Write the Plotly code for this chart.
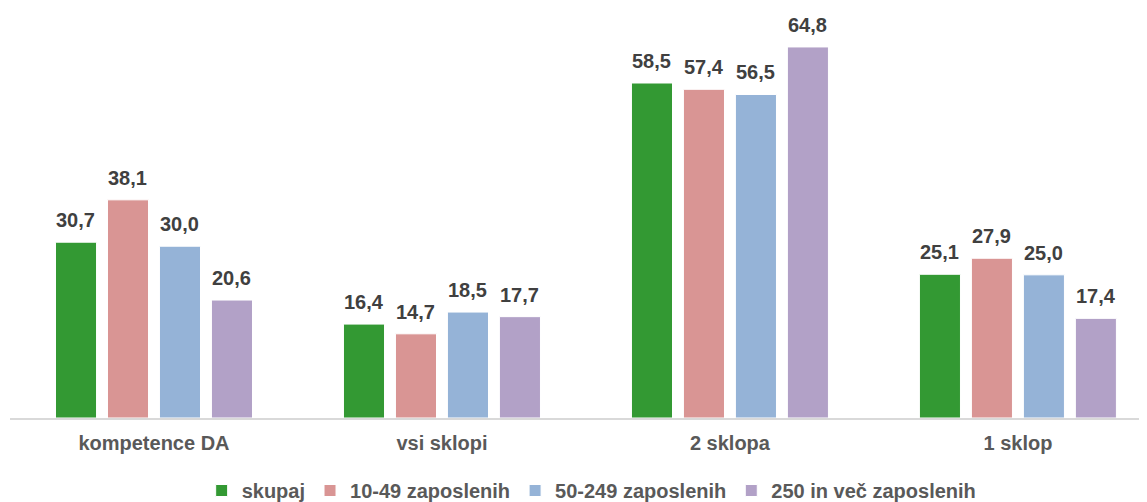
import plotly.graph_objects as go

categories = ["kompetence DA", "vsi sklopi", "2 sklopa", "1 sklop"]
series_names = ["skupaj", "10-49 zaposlenih", "50-249 zaposlenih", "250 in več zaposlenih"]
skupaj = [30.7, 16.4, 58.5, 25.1]
z10_49 = [38.1, 14.7, 57.4, 27.9]
z50_249 = [30.0, 18.5, 56.5, 25.0]
z250 = [20.6, 17.7, 64.8, 17.4]
values = [skupaj, z10_49, z50_249, z250]
colors = ["#339933", "#D99594", "#95B3D7", "#B2A1C7"]

FONT = "Liberation Sans, Arial, sans-serif"
slot_px = 52

fig = go.Figure()
annotations = []
for i, (name, vals, col) in enumerate(zip(series_names, values, colors)):
    fig.add_trace(go.Bar(
        x=categories, y=vals, name=name,
        marker=dict(color=col, line=dict(color="white", width=1)),
    ))
    for cat, v in zip(categories, vals):
        annotations.append(dict(
            x=cat, y=v, xref="x", yref="y",
            text=f"{v:.1f}".replace(".", ","),
            showarrow=False, yanchor="bottom", xanchor="center",
            xshift=(i - 1.5) * slot_px, yshift=9,
            font=dict(family=FONT, size=20, color="#404040", weight="bold"),
        ))

fig.update_layout(
    width=1147, height=502,
    margin=dict(l=2, r=0, t=0, b=92),
    paper_bgcolor="white", plot_bgcolor="white",
    barmode="group", bargap=0.278, bargroupgap=0.21,
    font=dict(family=FONT, color="#595959"),
    annotations=annotations,
    xaxis=dict(range=[-0.5, 3.476], showline=True, linecolor="#D9D9D9", linewidth=2,
               ticks="", showgrid=False, ticklabelstandoff=6,
               tickfont=dict(family=FONT, size=20, color="#595959", weight="bold")),
    yaxis=dict(range=[0, 71.6], visible=False, showgrid=False),
    legend=dict(orientation="h", x=0.508, xanchor="center", y=-0.178, yanchor="middle",
                font=dict(family=FONT, size=20, color="#595959", weight="bold"),
                itemwidth=30, tracegroupgap=0),
    showlegend=True,
)

fig.write_html("out.html")
